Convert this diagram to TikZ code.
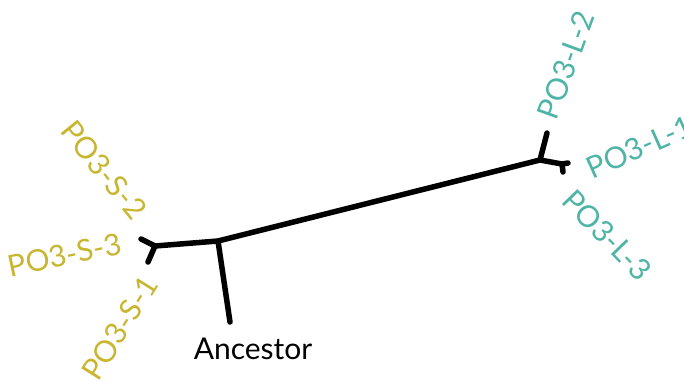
\documentclass[tikz,border=0pt]{standalone}
\usepackage{fontspec}
\setmainfont{Lato}
\definecolor{sgold}{RGB}{200,182,48}
\definecolor{lteal}{RGB}{78,180,166}
\begin{document}
\begin{tikzpicture}[x=1pt,y=-1pt,
  branch/.style={line width=5.5pt,line cap=round,line join=round,black},
  slabel/.style={text=sgold,font=\fontsize{30}{30}\selectfont,inner sep=0pt},
  llabel/.style={text=lteal,font=\fontsize{30}{30}\selectfont,inner sep=0pt},
  alabel/.style={text=black,font=\fontsize{30}{30}\selectfont,inner sep=0pt}]
\useasboundingbox (0,0) rectangle (684,381);
\clip (0,0) rectangle (684,381);
% coordinates
\coordinate (s3) at (141,239);
\coordinate (sj) at (155,246);
\coordinate (s1) at (148,262);
\coordinate (root) at (218,241);
\coordinate (anc) at (230,322);
\coordinate (lj) at (540,160);
\coordinate (l2) at (547,133);
\coordinate (lk) at (562,164);
\coordinate (l1) at (568,163);
\coordinate (l3) at (563,172);
% branches
\draw[branch] (s3) -- (sj) -- (root) -- (lj) -- (lk) -- (l1);
\draw[branch] (sj) -- (s1);
\draw[branch] (root) -- (anc);
\draw[branch] (lj) -- (l2);
\draw[branch] (lk) -- (l3);
% labels
\node[slabel,rotate=-51] (ts2) at (104,170) {PO3-S-2};
\node[slabel,rotate=12] (ts3) at (65,255) {PO3-S-3};
\node[slabel,rotate=58] (ts1) at (120,328) {PO3-S-1};
\node[alabel] (tanc) at (253,349) {Ancestor};
\node[llabel,rotate=70] (tl2) at (566,65) {PO3-L-2};
\node[llabel,rotate=24,anchor=west] (tl1) at (588,170) {PO3-L-1};
\node[llabel,rotate=-46] (tl3) at (607,235) {PO3-L-3};
\end{tikzpicture}
\end{document}
